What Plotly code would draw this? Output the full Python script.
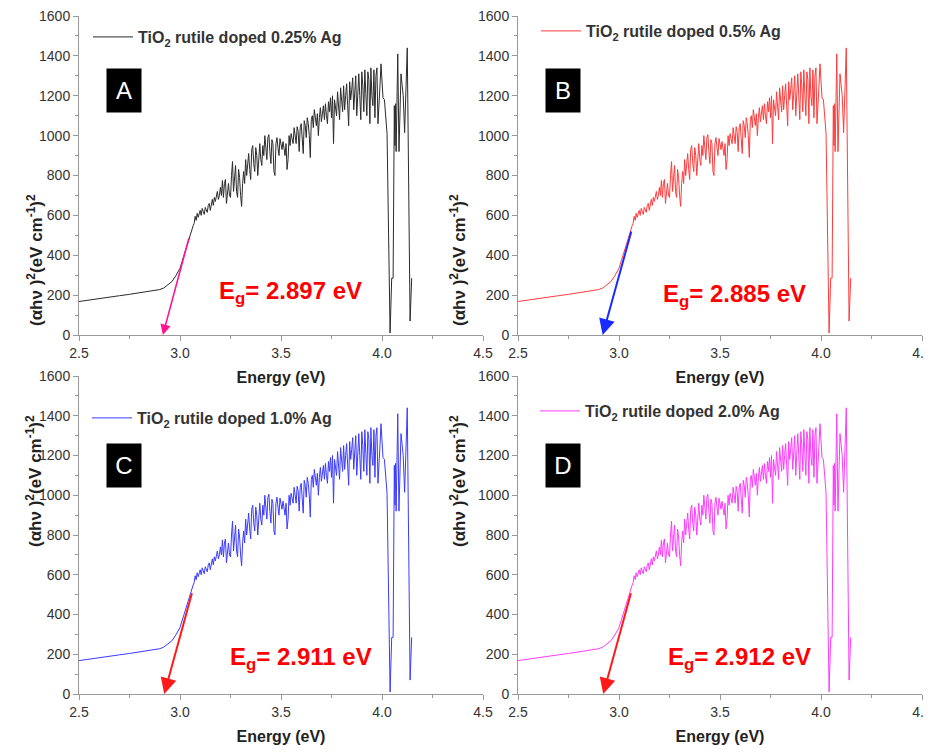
import plotly.graph_objects as go

# energy axis (eV) of the measured spectrum - smooth edge part
edge_energy = [2.50, 2.55, 2.60, 2.65, 2.70, 2.75, 2.80, 2.85, 2.88, 2.90, 2.92, 2.94,
               2.96, 2.98, 3.00, 3.02, 3.04, 3.06, 3.065]
edge_abs = [168, 176, 183, 190, 197, 204, 211, 218, 223, 228, 236, 250,
            268, 298, 335, 400, 470, 535, 548]

# noisy part, 3.070 .. 3.995 eV in 0.005 eV steps
noisy_energy = [
    3.070, 3.075, 3.080, 3.085, 3.090, 3.095, 3.100, 3.105, 3.110, 3.115,
    3.120, 3.125, 3.130, 3.135, 3.140, 3.145, 3.150, 3.155, 3.160, 3.165,
    3.170, 3.175, 3.180, 3.185, 3.190, 3.195, 3.200, 3.205, 3.210, 3.215,
    3.220, 3.225, 3.230, 3.235, 3.240, 3.245, 3.250, 3.255, 3.260, 3.265,
    3.270, 3.275, 3.280, 3.285, 3.290, 3.295, 3.300, 3.305, 3.310, 3.315,
    3.320, 3.325, 3.330, 3.335, 3.340, 3.345, 3.350, 3.355, 3.360, 3.365,
    3.370, 3.375, 3.380, 3.385, 3.390, 3.395, 3.400, 3.405, 3.410, 3.415,
    3.420, 3.425, 3.430, 3.435, 3.440, 3.445, 3.450, 3.455, 3.460, 3.465,
    3.470, 3.475, 3.480, 3.485, 3.490, 3.495, 3.500, 3.505, 3.510, 3.515,
    3.520, 3.525, 3.530, 3.535, 3.540, 3.545, 3.550, 3.555, 3.560, 3.565,
    3.570, 3.575, 3.580, 3.585, 3.590, 3.595, 3.600, 3.605, 3.610, 3.615,
    3.620, 3.625, 3.630, 3.635, 3.640, 3.645, 3.650, 3.655, 3.660, 3.665,
    3.670, 3.675, 3.680, 3.685, 3.690, 3.695, 3.700, 3.705, 3.710, 3.715,
    3.720, 3.725, 3.730, 3.735, 3.740, 3.745, 3.750, 3.755, 3.760, 3.765,
    3.770, 3.775, 3.780, 3.785, 3.790, 3.795, 3.800, 3.805, 3.810, 3.815,
    3.820, 3.825, 3.830, 3.835, 3.840, 3.845, 3.850, 3.855, 3.860, 3.865,
    3.870, 3.875, 3.880, 3.885, 3.890, 3.895, 3.900, 3.905, 3.910, 3.915,
    3.920, 3.925, 3.930, 3.935, 3.940, 3.945, 3.950, 3.955, 3.960, 3.965,
    3.970, 3.975, 3.980, 3.985, 3.990, 3.995,
]
noisy_abs = [
    560, 595, 575, 610, 590, 615, 625, 600, 635, 620,
    605, 640, 630, 615, 650, 660, 625, 665, 680, 650,
    690, 670, 705, 720, 680, 700, 740, 700, 775, 690,
    760, 780, 660, 720, 760, 700, 690, 800, 870, 720,
    780, 850, 720, 690, 830, 790, 700, 645, 760, 820,
    760, 880, 800, 850, 910, 830, 780, 930, 950, 860,
    820, 940, 900, 800, 920, 960, 880, 850, 950, 900,
    1000, 940, 880, 990, 1005, 920, 860, 980, 960, 820,
    800, 960, 990, 940, 900, 985, 960, 930, 970, 940,
    900, 960, 830, 880, 1000, 950, 1010, 985, 960, 1040,
    1000, 960, 1045, 1020, 920, 1040, 1060, 990, 910, 1075,
    1050, 990, 1090, 1060, 1000, 890, 1080, 1100, 1040, 1130,
    1080, 1050, 1110, 1000, 1090, 1140, 1070, 1120, 1150, 1080,
    1160, 1100, 1060, 1170, 1120, 1190, 1090, 1200, 960, 1180,
    1150, 1100, 1220, 1140, 1080, 1240, 1180, 1120, 1250, 1130,
    1200, 1260, 1150, 1050, 1270, 1180, 1230, 1290, 1130, 1200,
    1300, 1100, 1250, 1310, 1200, 1080, 1320, 1250, 1120, 1330,
    1210, 1100, 1320, 1280, 1060, 1340, 1200, 1150, 1330, 1090,
    1300, 1340, 1060, 1200, 1250, 1360,
]

# high-energy end, where the signal collapses
tail_energy = [4.005, 4.012, 4.025, 4.040, 4.048, 4.055, 4.061, 4.064, 4.067, 4.070,
               4.078, 4.084, 4.094, 4.100, 4.105, 4.112, 4.125, 4.139, 4.147]
tail_abs = [1190, 1180, 1010, 10, 285, 285, 1150, 950, 1160, 920,
            1410, 920, 1310, 1250, 1200, 1015, 1440, 70, 285]

energy = edge_energy + noisy_energy + tail_energy
absorb = edge_abs + noisy_abs + tail_abs

samples = ['0.25', '0.5', '1.0', '2.0']
panel_tags = ['A', 'B', 'C', 'D']
band_gaps = ['2.897', '2.885', '2.911', '2.912']
line_colors = ['#2b2b2b', '#ff3b3b', '#3b3bff', '#ff3bff']
arrow_colors = ['#ff1493', '#1a2bff', '#ff1a1a', '#ff1a1a']
# tangent arrows: start (on the curve) -> end (on the energy axis)
arrow_x0 = [3.046, 3.063, 3.061, 3.061]
arrow_y0 = [493, 527, 515, 515]
arrow_x1 = [2.915, 2.919, 2.922, 2.922]

Y_TITLE = '<b>(\u03b1h\u03bd )<sup>2</sup>(eV cm<sup>-1</sup>)<sup>2</sup></b>'

FONT = 'Arial, Liberation Sans, sans-serif'
OFF = 8  # page body margin
W, H = 932 - OFF, 753 - OFF


def px(v):
    return (v - OFF) / W


def py(v):
    return 1 - (v - OFF) / H


x_dom = [[px(79), px(483)], [px(518), px(922)], [px(79), px(483)], [px(518), px(922)]]
y_dom = [[py(335), py(16)], [py(335), py(16)], [py(694), py(376)], [py(694), py(376)]]
legend_pos = [(px(88), py(37)), (px(536), py(31)), (px(87), py(418)), (px(535), py(411))]
ytitle_pos = [(px(22), py(192)), (px(458), py(192)), (px(21), py(549)), (px(458), py(549))]
tag_y = [1226, 1224, 1149, 1149]
eg_pos = [(3.545, 212), (3.573, 200), (3.598, 180), (3.598, 180)]
arrow_w = [1.6, 2, 2, 2]
arrow_sz = [1.3, 1.6, 1.6, 1.6]

fig = go.Figure()
annotations = []
layout = {}

for i in range(4):
    n = '' if i == 0 else str(i + 1)
    fig.add_trace(go.Scatter(
        x=energy, y=absorb, mode='lines',
        line=dict(color=line_colors[i], width=1),
        name='<b>TiO<sub>2</sub> rutile doped %s%% Ag</b>' % samples[i],
        xaxis='x' + n, yaxis='y' + n,
        legend='legend' + n, showlegend=True,
    ))
    layout['legend' + n] = dict(
        x=legend_pos[i][0], y=legend_pos[i][1], xanchor='left', yanchor='middle',
        font=dict(family=FONT, size=16, color='#333'),
        bgcolor='rgba(0,0,0,0)', itemwidth=40,
    )
    layout['xaxis' + n] = dict(
        domain=x_dom[i], anchor='y' + n, range=[2.5, 4.5],
        dtick=0.5, tickformat='.1f', ticks='outside', ticklen=5,
        tickcolor='#999', showline=True, linecolor='#999', linewidth=1,
        showgrid=False, zeroline=False, ticklabeloverflow='allow',
        minor=dict(ticks='outside', ticklen=3, dtick=0.25, tickcolor='#999'),
        tickfont=dict(family=FONT, size=14, color='#333'),
        title=dict(text='<b>Energy (eV)</b>', standoff=12,
                   font=dict(family=FONT, size=16, color='#222')),
        automargin=False,
    )
    layout['yaxis' + n] = dict(
        domain=y_dom[i], anchor='x' + n, range=[0, 1600],
        dtick=200, ticks='outside', ticklen=5,
        tickcolor='#999', showline=True, linecolor='#999', linewidth=1,
        showgrid=False, zeroline=False, ticklabeloverflow='allow',
        minor=dict(ticks='outside', ticklen=3, dtick=100, tickcolor='#999'),
        tickfont=dict(family=FONT, size=14, color='#333'),
        automargin=False,
    )
    annotations.append(dict(
        x=ytitle_pos[i][0], y=ytitle_pos[i][1], xref='paper', yref='paper',
        text=Y_TITLE, textangle=-90, showarrow=False,
        font=dict(family=FONT, size=17, color='#222'),
    ))
    annotations.append(dict(
        x=2.723, y=tag_y[i], xref='x' + n, yref='y' + n,
        text=panel_tags[i], showarrow=False,
        font=dict(family=FONT, size=24, color='white'),
        bgcolor='black', borderpad=7, width=20, height=29,
    ))
    annotations.append(dict(
        x=eg_pos[i][0], y=eg_pos[i][1], xref='x' + n, yref='y' + n,
        text='<b>E<sub>g</sub>= %s eV</b>' % band_gaps[i], showarrow=False,
        font=dict(family=FONT, size=24, color='#ff0000'),
    ))
    annotations.append(dict(
        x=arrow_x1[i], y=0, ax=arrow_x0[i], ay=arrow_y0[i],
        xref='x' + n, yref='y' + n, axref='x' + n, ayref='y' + n,
        text='', showarrow=True, arrowhead=2, arrowsize=arrow_sz[i],
        arrowwidth=arrow_w[i], arrowcolor=arrow_colors[i],
    ))

fig.update_layout(
    width=W, height=H,
    margin=dict(l=0, r=0, t=0, b=0),
    paper_bgcolor='white', plot_bgcolor='white',
    showlegend=True,
    annotations=annotations,
    **layout,
)

fig.write_html("out.html")
